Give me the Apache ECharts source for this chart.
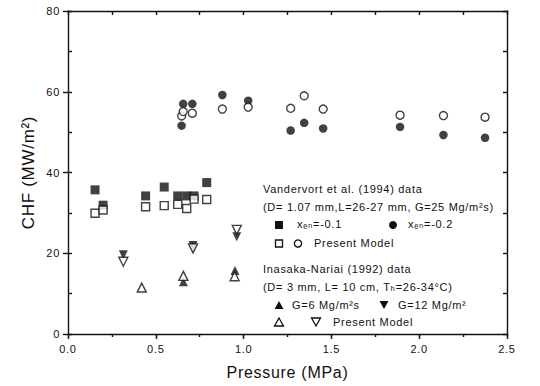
<!DOCTYPE html>
<html>
<head>
<meta charset="utf-8">
<script src="https://cdn.jsdelivr.net/npm/echarts@6/dist/echarts.min.js"></script>
<style>html,body{margin:0;padding:0;background:#fff}#c{width:540px;height:386px;letter-spacing:0.7px}</style>
</head>
<body>
<div id="c"></div>
<script>
// Vandervort et al. (1994) data
const pressSq = [0.154, 0.200, 0.442, 0.548, 0.625, 0.676, 0.718, 0.790];
const chfSqExp = [35.7, 31.9, 34.2, 36.4, 34.2, 34.2, 34.2, 37.5];
const chfSqModel = [29.9, 30.7, 31.5, 31.8, 32.1, 31.1, 33.4, 33.3];
const pressCirc = [0.647, 0.656, 0.708, 0.879, 1.026, 1.268, 1.345, 1.453, 1.891, 2.138, 2.375];
const chfCircExp = [51.6, 57.0, 57.0, 59.2, 57.8, 50.4, 52.3, 50.9, 51.3, 49.3, 48.6];
const chfCircModel = [54.0, 55.1, 54.7, 55.7, 56.2, 55.9, 59.0, 55.7, 54.2, 54.1, 53.7];
// Inasaka-Nariai (1992) data
const pressG6Exp = [0.657, 0.951];
const chfG6Exp = [12.95, 15.7];
const pressG6Model = [0.420, 0.657, 0.949];
const chfG6Model = [11.5, 14.4, 14.3];
const pressG12 = [0.315, 0.712, 0.961];
const chfG12Exp = [19.6, 21.9, 24.1];
const chfG12Model = [17.9, 21.2, 25.8];
// axis ticks
const xTicks = [0, 0.5, 1.0, 1.5, 2.0, 2.5];
const yTicks = [0, 20, 40, 60, 80];

const zip = (a, b) => a.map((v, i) => [v, b[i]]);
const FONT = '"Liberation Sans", Arial, "DejaVu Sans", sans-serif';
const K = '#111';

function sc(name, data, symbol, size, filled, rotate) {
  return {
    type: 'scatter', name, data, symbol, symbolSize: size, symbolRotate: rotate || 0,
    xAxisIndex: 0, yAxisIndex: 0,
    itemStyle: filled ? {color: K} : {color: '#fff', borderColor: K, borderWidth: 1.4},
    emphasis: {disabled: true}, z: filled ? 3 : 4
  };
}

const chart = echarts.init(document.getElementById('c'), null, {renderer: 'svg'});
const lineStyle = {color: K, width: 1.4};
const grid = {left: 68, right: 33, top: 11, bottom: 52};

const tx = (t, x, y) => ({type: 'text', left: x, top: y, style: {text: t, font: '11px ' + FONT, fill: K}});
const y0 = 183;
const sx = 279;
const gfx = [
  tx('Vandervort et al. (1994) data', 263, y0),
  tx('(D= 1.07 mm,L=26-27 mm, G=25 Mg/m\u00B2s)', 263, y0 + 18),
  {type: 'rect', shape: {x: sx - 4, y: y0 + 38, width: 8, height: 8}, style: {fill: K}},
  tx('x\u2091\u2099=-0.1', 297, y0 + 35),
  {type: 'circle', shape: {cx: 393, cy: y0 + 42, r: 4}, style: {fill: K}},
  tx('x\u2091\u2099=-0.2', 408, y0 + 35),
  {type: 'rect', shape: {x: sx - 3.5, y: y0 + 57, width: 7, height: 7}, style: {fill: '#fff', stroke: K, lineWidth: 1.3}},
  {type: 'circle', shape: {cx: 298, cy: y0 + 60.5, r: 3.6}, style: {fill: '#fff', stroke: K, lineWidth: 1.3}},
  tx('Present Model', 314, y0 + 54),
  tx('Inasaka-Nariai (1992) data', 263, y0 + 80),
  tx('(D= 3 mm, L= 10 cm, T\u2095=26-34\u00B0C)', 263, y0 + 98),
  {type: 'polygon', shape: {points: [[sx, y0 + 118], [sx - 4.5, y0 + 126], [sx + 4.5, y0 + 126]]}, style: {fill: K}},
  tx('G=6 Mg/m\u00B2s', 292, y0 + 116),
  {type: 'polygon', shape: {points: [[384, y0 + 126], [379.5, y0 + 118], [388.5, y0 + 118]]}, style: {fill: K}},
  tx('G=12 Mg/m\u00B2', 398, y0 + 116),
  {type: 'polygon', shape: {points: [[sx, y0 + 135], [sx - 4.5, y0 + 143], [sx + 4.5, y0 + 143]]}, style: {fill: '#fff', stroke: K, lineWidth: 1.3}},
  {type: 'polygon', shape: {points: [[316, y0 + 143], [311.5, y0 + 135], [320.5, y0 + 135]]}, style: {fill: '#fff', stroke: K, lineWidth: 1.3}},
  tx('Present Model', 333, y0 + 133)
];

const plain = {axisLabel: {show: false}, splitLine: {show: false}};
chart.setOption({
  animation: false,
  backgroundColor: '#fff',
  grid,
  graphic: gfx,
  xAxis: [
    {type: 'value', min: xTicks[0], max: xTicks[xTicks.length - 1], interval: 0.5, position: 'bottom',
     name: 'Pressure (MPa)', nameLocation: 'middle', nameGap: 30,
     nameTextStyle: {fontFamily: FONT, fontSize: 16, color: K},
     axisLine: {show: true, onZero: false, lineStyle}, axisTick: {show: true, length: 5, lineStyle},
     axisLabel: {fontFamily: FONT, fontSize: 11, color: K, margin: 9, formatter: v => v.toFixed(1)},
     splitLine: {show: false}},
    Object.assign({type: 'value', min: 0, max: 2.5, interval: 0.25, position: 'bottom',
     axisLine: {show: false, onZero: false}, axisTick: {show: true, length: 3, lineStyle}}, plain),
    Object.assign({type: 'value', min: 0, max: 2.5, interval: 0.25, position: 'top',
     axisLine: {show: true, onZero: false, lineStyle}, axisTick: {show: true, inside: true, length: 4, lineStyle}}, plain)
  ],
  yAxis: [
    {type: 'value', min: yTicks[0], max: yTicks[yTicks.length - 1], interval: 20, position: 'left',
     name: 'CHF (MW/m\u00B2)', nameLocation: 'middle', nameGap: 29,
     nameTextStyle: {fontFamily: FONT, fontSize: 17, color: K},
     axisLine: {show: true, onZero: false, lineStyle}, axisTick: {show: true, length: 5, lineStyle},
     axisLabel: {fontFamily: FONT, fontSize: 11, color: K, margin: 8},
     splitLine: {show: false}},
    Object.assign({type: 'value', min: 0, max: 80, interval: 10, position: 'left',
     axisLine: {show: false, onZero: false}, axisTick: {show: true, inside: true, length: 4, lineStyle}}, plain),
    Object.assign({type: 'value', min: 0, max: 80, interval: 10, position: 'right',
     axisLine: {show: true, onZero: false, lineStyle}, axisTick: {show: true, inside: true, length: 4, lineStyle}}, plain)
  ],
  series: [
    sc('x_en=-0.1', zip(pressSq, chfSqExp), 'rect', 9, true),
    sc('Present Model (sq)', zip(pressSq, chfSqModel), 'rect', 8, false),
    sc('x_en=-0.2', zip(pressCirc, chfCircExp), 'circle', 8.5, true),
    sc('Present Model (circ)', zip(pressCirc, chfCircModel), 'circle', 8, false),
    sc('G=6', zip(pressG6Exp, chfG6Exp), 'triangle', 9, true),
    sc('Present Model G6', zip(pressG6Model, chfG6Model), 'triangle', 9, false),
    sc('G=12', zip(pressG12, chfG12Exp), 'triangle', 9, true, 180),
    sc('Present Model G12', zip(pressG12, chfG12Model), 'triangle', 9, false, 180)
  ]
});
</script>
</body>
</html>
